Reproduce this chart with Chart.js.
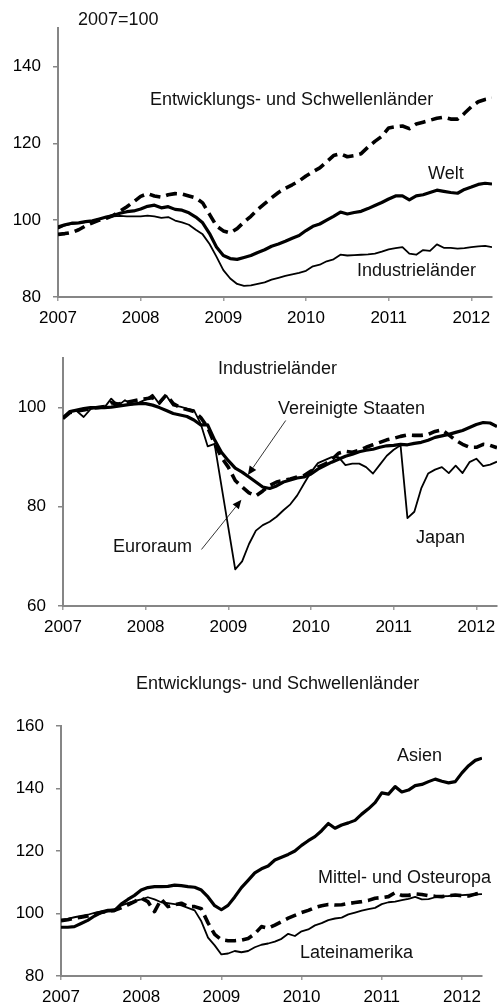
<!DOCTYPE html>
<html>
<head>
<meta charset="utf-8">
<script src="https://cdn.jsdelivr.net/npm/chart.js@4.4.0/dist/chart.umd.min.js"></script>
<style>
  body { margin: 0; background: #fff; width: 503px; height: 1007px; position: relative; overflow: hidden;
         font-family: "Liberation Sans", Arial, sans-serif; }
  canvas { position: absolute; left: 0; }
  .lbl { position: absolute; font-size: 18px; line-height: 18px; color: #111; white-space: nowrap; }
</style>
</head>
<body>
<canvas id="welt" width="503" height="330" style="top:0"></canvas>
<canvas id="industrie" width="503" height="320" style="top:330px"></canvas>
<canvas id="schwellen" width="503" height="357" style="top:650px"></canvas>

<div class="lbl" style="left:78px;top:10px">2007=100</div>
<div class="lbl" style="left:150px;top:90px">Entwicklungs- und Schwellenländer</div>
<div class="lbl" style="left:428px;top:164px">Welt</div>
<div class="lbl" style="left:357px;top:261px">Industrieländer</div>

<div class="lbl" style="left:218px;top:359px">Industrieländer</div>
<div class="lbl" style="left:278px;top:399px">Vereinigte Staaten</div>
<div class="lbl" style="left:416px;top:528px">Japan</div>
<div class="lbl" style="left:113px;top:537px">Euroraum</div>

<div class="lbl" style="left:136px;top:674px">Entwicklungs- und Schwellenländer</div>
<div class="lbl" style="left:397px;top:746px">Asien</div>
<div class="lbl" style="left:318px;top:868px">Mittel- und Osteuropa</div>
<div class="lbl" style="left:300px;top:943px">Lateinamerika</div>

<script>
'use strict';

// Monthly observations, Jan 2007 - Apr 2012 (64 months), 2007 = 100
const monthCount = 64;
const months = [];
for (let m = 0; m < monthCount; m++) months.push(2007 + m / 12);

const yearTicks = [2007, 2008, 2009, 2010, 2011, 2012];

// Panel 1: world
const welt = [98.2, 98.8, 99.2, 99.3, 99.6, 99.8, 100.3, 100.8, 101.2, 101.8, 102.2, 102.4,
  102.9, 103.6, 103.9, 103.2, 103.5, 102.8, 102.6, 101.9, 100.8, 99.3, 96.5, 93.0,
  90.8, 90.0, 89.8, 90.3, 90.8, 91.6, 92.3, 93.2, 93.8, 94.5, 95.3, 96.0,
  97.3, 98.4, 99.0, 100.0, 101.0, 102.1, 101.6, 102.0, 102.3, 103.0, 103.8, 104.6,
  105.5, 106.3, 106.3, 105.3, 106.3, 106.6, 107.2, 107.8, 107.5, 107.2, 107.0, 108.0,
  108.6, 109.3, 109.6, 109.4];
const industrielaender = [97.8, 98.6, 99.0, 99.2, 99.5, 99.8, 100.3, 100.7, 101.0, 101.1, 101.0, 101.0,
  101.0, 101.2, 101.0, 100.6, 100.8, 99.9, 99.4, 98.8, 97.5, 96.3, 93.8, 90.5,
  87.0, 84.8, 83.4, 82.9, 83.0, 83.4, 83.8, 84.5, 85.0, 85.5, 85.9, 86.3,
  86.8, 88.0, 88.4, 89.3, 89.8, 91.0, 90.8, 90.9, 91.0, 91.1, 91.3, 91.8,
  92.4, 92.7, 93.0, 91.3, 91.0, 92.2, 92.0, 93.7, 92.8, 92.8, 92.6, 92.7,
  93.0, 93.2, 93.3, 93.0];
const schwellenlaender = [96.3, 96.5, 96.8, 97.5, 98.5, 99.3, 100.0, 100.5, 101.2, 102.3, 103.5, 104.8,
  106.2, 106.9, 106.3, 106.0, 106.6, 106.9, 106.8, 106.3, 105.8, 104.5, 101.5, 98.5,
  97.2, 96.7, 97.8, 99.5, 101.0, 102.8, 104.3, 105.8, 107.2, 108.3, 109.2, 110.2,
  111.5, 112.6, 113.6, 115.2, 116.8, 117.3, 116.5, 116.8, 117.3, 119.0, 120.5, 121.8,
  124.0, 124.3, 124.5, 123.8, 125.0, 125.5, 126.0, 126.5, 126.8, 126.3, 126.3, 127.8,
  129.5, 130.8, 131.4, 131.7];

// Panel 2: advanced economies
const usa = [98.0, 99.2, 99.5, 99.8, 100.0, 100.0, 100.0, 100.1, 100.3, 100.5, 100.7, 100.8,
  100.8, 100.5, 100.0, 99.4, 98.8, 98.5, 98.2, 97.5, 96.5, 96.5, 93.5, 91.0,
  89.3, 87.8, 87.0, 86.0, 85.0, 84.0, 83.7, 84.2, 85.0, 85.4, 85.8, 86.0,
  86.6, 87.6, 88.3, 89.0, 89.6, 90.2, 90.6, 91.1, 91.4, 91.6, 92.0, 92.3,
  92.4, 92.6, 92.5, 92.8, 93.0, 93.4, 94.0, 94.3, 94.6, 95.0, 95.4, 96.0,
  96.6, 97.0, 96.9, 96.2];
const euroraum = [97.8, 99.0, 99.3, 99.5, 99.8, 100.0, 100.2, 101.0, 100.7, 101.0, 101.3, 101.6,
  101.8, 102.0, 101.0, 102.6, 100.8, 100.0, 99.6, 99.2, 98.0, 96.0, 92.7, 90.0,
  88.0, 85.3, 84.0, 82.8, 82.2, 83.2, 84.3, 85.0, 85.3, 85.6, 86.0, 86.3,
  87.2, 88.0, 88.6, 89.5, 90.8, 91.2, 91.0, 91.4, 92.0, 92.5, 93.0, 93.5,
  93.8, 94.2, 94.5, 94.4, 94.4, 94.6, 95.2, 95.5, 94.5, 93.4, 92.6, 92.0,
  92.0, 92.6, 92.4, 91.9];
const japan = [97.7, 99.3, 99.3, 98.1, 99.7, 100.0, 100.0, 101.8, 100.4, 101.5, 100.6, 101.0,
  101.6, 102.6, 100.7, 102.4, 100.4, 100.2, 99.8, 99.5, 96.7, 92.2, 92.7, 84.2,
  75.8, 67.4, 69.0, 72.5, 75.2, 76.3, 77.0, 78.0, 79.3, 80.5, 82.3, 84.7,
  87.0, 88.8, 89.4, 90.0, 90.0, 88.4, 88.7, 88.7, 88.0, 86.7, 88.5, 90.3,
  91.5, 92.4, 77.7, 79.0, 83.7, 86.7, 87.5, 88.0, 86.8, 88.3, 86.8, 89.0,
  89.7, 88.2, 88.5, 89.1];

// Panel 3: emerging and developing economies
const asien = [95.6, 95.6, 95.8, 96.8, 97.8, 99.2, 100.3, 100.8, 100.9, 103.0, 104.5, 105.8,
  107.5, 108.3, 108.6, 108.6, 108.7, 109.1, 108.9, 108.6, 108.4, 107.5, 105.3, 102.5,
  101.2, 102.6, 105.3, 108.3, 110.6, 113.0, 114.3, 115.2, 117.1, 118.0, 118.9, 120.0,
  121.8, 123.3, 124.6, 126.5, 128.8, 127.3, 128.3, 129.0, 129.8, 131.8, 133.5, 135.5,
  138.6, 138.2, 140.6, 138.9, 139.5, 140.9, 141.3, 142.2, 143.0, 142.3, 141.8, 142.2,
  145.0, 147.3, 149.0, 149.7];
const osteuropa = [97.7, 98.0, 98.5, 98.8, 99.2, 99.8, 100.3, 100.8, 101.0, 101.8, 102.8, 103.8,
  104.9, 103.8, 100.6, 104.6, 102.2, 102.8, 103.3, 102.2, 102.2, 101.5, 97.0, 93.3,
  91.6, 91.3, 91.3, 91.5, 92.0, 93.5, 95.8, 95.3, 96.3, 97.4, 98.5, 99.4,
  100.3, 101.0, 101.9, 102.5, 102.9, 102.7, 102.8, 103.2, 103.5, 103.8, 104.2, 104.9,
  105.1, 105.4, 106.7, 105.8, 105.8, 106.3, 106.1, 105.7, 105.5, 105.4, 105.7, 105.9,
  105.7, 105.6, 106.2, 106.7];
const lateinamerika = [98.0, 98.3, 98.8, 99.2, 99.6, 100.2, 100.7, 101.2, 101.3, 102.5, 103.3, 104.0,
  104.5, 105.2, 104.5, 103.6, 103.3, 103.0, 102.6, 101.8, 101.0, 97.5, 92.3, 89.8,
  86.9, 87.2, 88.0, 87.6, 88.0, 89.2, 90.0, 90.4, 91.0, 91.9, 93.5, 92.8,
  94.3, 94.9, 96.2, 96.9, 97.9, 98.4, 98.7, 99.7, 100.3, 100.9, 101.4, 101.8,
  103.0, 103.6, 103.8, 104.3, 104.7, 105.3, 104.5, 104.6, 105.2, 105.5, 105.6, 105.8,
  105.9, 106.0, 106.1, 106.2];

const axisGrey = '#868686';
const tickFont = { family: '"Liberation Sans", Arial, sans-serif', size: 17 };

const thick = { borderColor: '#000', borderWidth: 3.2 };
const thin = { borderColor: '#000', borderWidth: 1.8 };
const dashed = { borderColor: '#000', borderWidth: 3.6, borderDash: [11, 6] };

function series(values, style) {
  return Object.assign({
    data: values.map((v, i) => ({ x: months[i], y: v })),
    pointRadius: 0,
    tension: 0,
    borderJoinStyle: 'round',
    fill: false
  }, style);
}

// Arrows pointing from labels to lines (panel 2)
const arrowPlugin = {
  id: 'arrows',
  afterDatasetsDraw(chart, args, opts) {
    const ctx = chart.ctx;
    const xs = chart.scales.x, ys = chart.scales.y;
    (opts.items || []).forEach(a => {
      const x0 = xs.getPixelForValue(a.from[0]), y0 = ys.getPixelForValue(a.from[1]);
      const x1 = xs.getPixelForValue(a.to[0]), y1 = ys.getPixelForValue(a.to[1]);
      const ang = Math.atan2(y1 - y0, x1 - x0);
      const len = 9, half = 4;
      ctx.save();
      ctx.strokeStyle = '#000';
      ctx.lineWidth = 0.8;
      ctx.beginPath();
      ctx.moveTo(x0, y0);
      ctx.lineTo(x1 - Math.cos(ang) * len, y1 - Math.sin(ang) * len);
      ctx.stroke();
      ctx.fillStyle = '#000';
      ctx.beginPath();
      ctx.moveTo(x1, y1);
      ctx.lineTo(x1 - Math.cos(ang) * len - Math.sin(ang) * half, y1 - Math.sin(ang) * len + Math.cos(ang) * half);
      ctx.lineTo(x1 - Math.cos(ang) * len + Math.sin(ang) * half, y1 - Math.sin(ang) * len - Math.cos(ang) * half);
      ctx.closePath();
      ctx.fill();
      ctx.restore();
    });
  }
};

function buildChart(id, p) {
  new Chart(document.getElementById(id), {
    type: 'line',
    data: { datasets: p.datasets },
    plugins: p.arrows ? [arrowPlugin] : [],
    options: {
      responsive: false,
      animation: false,
      events: [],
      layout: { padding: { top: p.padTop, right: p.padRight, left: 0, bottom: 0 } },
      plugins: {
        legend: { display: false },
        tooltip: { enabled: false },
        arrows: { items: p.arrows || [] }
      },
      scales: {
        x: {
          type: 'linear',
          min: 2007,
          max: p.xMax,
          afterBuildTicks: s => { s.ticks = yearTicks.map(v => ({ value: v })); },
          afterFit: s => { s.height = p.xHeight; },
          border: { color: axisGrey, width: 2 },
          grid: { drawOnChartArea: false, tickLength: 4, color: '#a0a0a0', lineWidth: 1.5 },
          ticks: { font: tickFont, color: '#000', padding: 7, maxRotation: 0, autoSkip: false,
                   callback: v => String(v) }
        },
        y: {
          min: p.yMin,
          max: p.yMax,
          afterBuildTicks: s => { s.ticks = p.yTicks.map(v => ({ value: v })); },
          afterFit: s => { s.width = p.yWidth; },
          border: { color: axisGrey, width: 2 },
          grid: { drawOnChartArea: false, tickLength: 5, color: axisGrey, lineWidth: 1.5 },
          ticks: { font: tickFont, color: '#000', padding: 12, callback: v => String(v) }
        }
      }
    }
  });
}

buildChart('welt', {
  datasets: [series(schwellenlaender, dashed), series(welt, thick), series(industrielaender, thin)],
  yMin: 80, yMax: 150, yTicks: [80, 100, 120, 140],
  xMax: 2012.25, padTop: 28, padRight: 11, xHeight: 33, yWidth: 58
});

buildChart('industrie', {
  datasets: [series(euroraum, dashed), series(usa, thick), series(japan, thin)],
  yMin: 60, yMax: 110, yTicks: [60, 80, 100],
  xMax: 2012.25, padTop: 28, padRight: 6, xHeight: 44, yWidth: 63,
  arrows: [
    { from: [2009.694, 97.4], to: [2009.236, 86.4] },
    { from: [2008.675, 71.4], to: [2009.158, 81.4] }
  ]
});

buildChart('schwellen', {
  datasets: [series(asien, thick), series(osteuropa, dashed), series(lateinamerika, thin)],
  yMin: 80, yMax: 160, yTicks: [80, 100, 120, 140, 160],
  xMax: 2012.25, padTop: 76, padRight: 21, xHeight: 31, yWidth: 61
});
</script>
</body>
</html>
